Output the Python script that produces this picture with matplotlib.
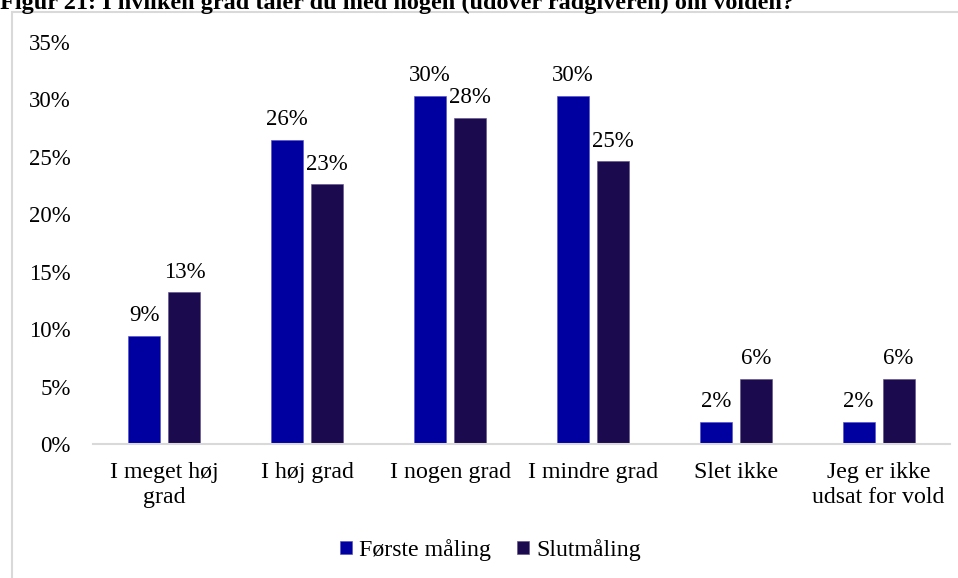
"""Figur 21: samtaler om volden, første måling vs slutmåling."""

import matplotlib.pyplot as plt
import numpy as np
from matplotlib.patches import Rectangle
from matplotlib.ticker import PercentFormatter

plt.rcParams["font.family"] = ["Liberation Serif", "DejaVu Serif"]

CATEGORIES = [
    "I meget høj\ngrad",
    "I høj grad",
    "I nogen grad",
    "I mindre grad",
    "Slet ikke",
    "Jeg er ikke\nudsat for vold",
]
FORSTE = [0.094, 0.265, 0.303, 0.303, 0.019, 0.019]
SLUT = [0.132, 0.226, 0.284, 0.246, 0.057, 0.057]
LABELS_FORSTE = ["9%", "26%", "30%", "30%", "2%", "2%"]
LABELS_SLUT = ["13%", "23%", "28%", "25%", "6%", "6%"]

BLUE = "#0000a0"
DARK = "#1c0a4e"
GRAY = "#d9d9d9"
FS = 16.5
FS_X = 17.2

W, H = 958, 578
fig = plt.figure(figsize=(W / 100, H / 100), dpi=100)

# cadre gris du graphique (coupé à droite et en bas)
fig.patches.append(Rectangle((11.5 / W, -0.05), 1.2, 1 - 11.5 / H + 0.05,
                             transform=fig.transFigure, fill=False,
                             edgecolor=GRAY, linewidth=1.5))

fig.text(0.0, 1 - 8.5 / H,
         "Figur 21: I hvilken grad taler du med nogen (udover rådgiveren) om volden?",
         fontsize=17.5, fontweight="bold", ha="left", va="baseline")

ax = fig.add_axes([93 / W, 1 - 444 / H, (950 - 93) / W, (444 - 42) / H])

x = np.arange(len(CATEGORIES))
width = 0.224
offset = 0.14
b1 = ax.bar(x - offset, FORSTE, width, color=BLUE, edgecolor="#4b4bc4",
            linewidth=0.4, label="Første måling")
b2 = ax.bar(x + offset, SLUT, width, color=DARK, edgecolor="#5a4d86",
            linewidth=0.4, label="Slutmåling")

for bars, labels in ((b1, LABELS_FORSTE), (b2, LABELS_SLUT)):
    for rect, lab in zip(bars, labels):
        ax.annotate(lab, (rect.get_x() + rect.get_width() / 2, rect.get_height()),
                    xytext=(0, 7), textcoords="offset points",
                    ha="center", va="bottom", fontsize=FS)

ax.set_xlim(-0.5, len(CATEGORIES) - 0.5)
ax.set_ylim(0, 0.35)
ax.set_yticks(np.arange(0, 0.351, 0.05))
ax.yaxis.set_major_formatter(PercentFormatter(1.0, decimals=0))
ax.set_xticks(x)
ax.set_xticklabels(CATEGORIES, fontsize=FS_X, linespacing=1.25)
ax.tick_params(axis="y", length=0, pad=16, labelsize=FS)
ax.tick_params(axis="x", length=0, pad=13)

for side in ("top", "right", "left"):
    ax.spines[side].set_visible(False)
ax.spines["bottom"].set_color(GRAY)
ax.spines["bottom"].set_linewidth(1.5)

fig.legend(handles=[b1, b2], loc="center", bbox_to_anchor=(0.512, 1 - 550 / H),
           ncol=2, frameon=False, fontsize=FS_X, handlelength=0.5,
           handleheight=0.5, handletextpad=0.3, columnspacing=1.1)

fig.savefig("out.png", dpi=100)
